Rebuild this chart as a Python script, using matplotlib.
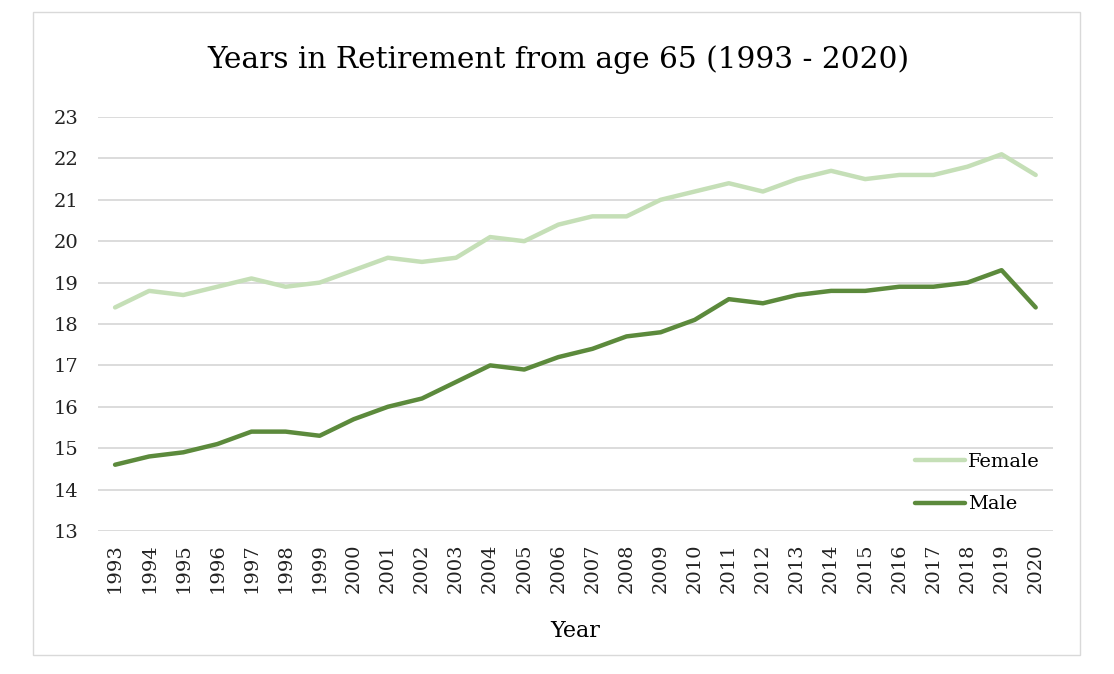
import matplotlib.pyplot as plt
from matplotlib.patches import Rectangle

plt.rcParams['font.family'] = ['DejaVu Serif']

# 数据
years = [str(y) for y in range(1993, 2021)]
female = [18.4, 18.8, 18.7, 18.9, 19.1, 18.9, 19.0, 19.3, 19.6, 19.5,
          19.6, 20.1, 20.0, 20.4, 20.6, 20.6, 21.0, 21.2, 21.4, 21.2,
          21.5, 21.7, 21.5, 21.6, 21.6, 21.8, 22.1, 21.6]
male = [14.6, 14.8, 14.9, 15.1, 15.4, 15.4, 15.3, 15.7, 16.0, 16.2,
        16.6, 17.0, 16.9, 17.2, 17.4, 17.7, 17.8, 18.1, 18.6, 18.5,
        18.7, 18.8, 18.8, 18.9, 18.9, 19.0, 19.3, 18.4]
y_ticks = list(range(13, 24))

fig = plt.figure(figsize=(11.14, 6.74), dpi=100)
ax = fig.add_axes([0.088, 0.2122, 0.857, 0.6142])

# 外框
fig.patches.append(Rectangle((33 / 1114, 1 - 655 / 674), 1047 / 1114, 643 / 674,
                             transform=fig.transFigure, fill=False,
                             edgecolor='#d9d9d9', linewidth=1))

x = range(len(years))
ax.plot(x, female, color='#c5dfb7', linewidth=3.2, label='Female', solid_capstyle='round')
ax.plot(x, male, color='#5c8a3c', linewidth=3.2, label='Male', solid_capstyle='round')

ax.set_xlim(-0.5, len(years) - 0.5)
ax.set_ylim(13, 23)
ax.set_yticks(y_ticks)
ax.set_xticks(list(x))
ax.set_xticklabels(years, rotation=90)
ax.tick_params(length=0, labelsize=14, colors='#222222')
ax.tick_params(axis='x', pad=9)
ax.tick_params(axis='y', pad=14)
ax.grid(axis='y', color='#d9d9d9', linewidth=1.3)
ax.set_axisbelow(True)
for s in ax.spines.values():
    s.set_visible(False)

ax.set_xlabel('Year', fontsize=16, labelpad=19)
fig.text(0.501, 0.911, 'Years in Retirement from age 65 (1993 - 2020)',
         ha='center', va='center', fontsize=21.3)

ax.legend(loc='lower right', bbox_to_anchor=(1.005, 0.0), frameon=False,
          fontsize=14, handlelength=2.6, handletextpad=0.15, labelspacing=1.25)

fig.savefig('out.png', dpi=100)
